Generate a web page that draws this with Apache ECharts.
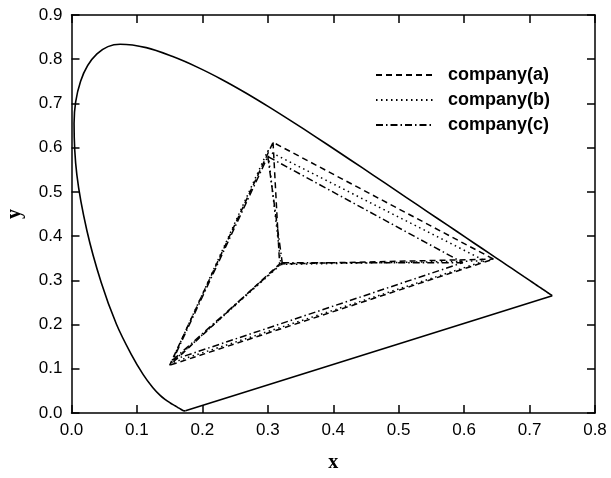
<!DOCTYPE html>
<html><head><meta charset="utf-8">
<script src="https://cdn.jsdelivr.net/npm/echarts@6/dist/echarts.min.js"></script>
<style>html,body{margin:0;padding:0;background:#fff}#c{width:611px;height:478px}</style>
</head><body><div id="c"></div>
<script>
// Spectral locus (chromaticity x, y)
const locusX = [0.1741,0.1738,0.1733,0.1726,0.1714,0.1703,0.1689,0.1669,0.1644,0.1611,0.1566,0.1510,0.1440,0.1355,0.1241,0.1096,0.0913,0.0687,0.0454,0.0235,0.0082,0.0039,0.0139,0.0389,0.0743,0.1142,0.1547,0.1929,0.2296,0.2658,0.3016,0.3373,0.3731,0.4087,0.4441,0.4788,0.5125,0.5448,0.5752,0.6029,0.6270,0.6482,0.6658,0.6801,0.6915,0.7006,0.7079,0.7140,0.7190,0.7230,0.7260,0.7300,0.7320,0.7347];
const locusY = [0.0050,0.0049,0.0048,0.0048,0.0051,0.0058,0.0069,0.0086,0.0109,0.0138,0.0177,0.0227,0.0297,0.0399,0.0578,0.0868,0.1327,0.2007,0.2950,0.4127,0.5384,0.6548,0.7502,0.8120,0.8338,0.8262,0.8059,0.7816,0.7543,0.7243,0.6923,0.6589,0.6245,0.5896,0.5547,0.5202,0.4866,0.4544,0.4242,0.3965,0.3725,0.3514,0.3340,0.3197,0.3083,0.2993,0.2920,0.2859,0.2809,0.2770,0.2740,0.2700,0.2680,0.2653];

// Company primaries: order R, G, B, W(white point)
const companies = ['company(a)','company(b)','company(c)'];
const compAx = [0.645, 0.308, 0.150, 0.318];
const compAy = [0.348, 0.612, 0.108, 0.337];
const compBx = [0.632, 0.300, 0.152, 0.320];
const compBy = [0.344, 0.593, 0.113, 0.336];
const compCx = [0.598, 0.300, 0.155, 0.322];
const compCy = [0.340, 0.580, 0.120, 0.340];

const xTickMin = 0, xTickMax = 0.8, xTickStep = 0.1;
const yTickMin = 0, yTickMax = 0.9, yTickStep = 0.1;

const dashes = [[6,4],[1.5,3.5],[7,3,1.5,3]];

const locusData = locusX.map((x,i)=>[x,locusY[i]]);
const purpleData = [[locusX[locusX.length-1], locusY[locusY.length-1]], [locusX[0], locusY[0]]];

function paths(xs, ys){
  const R=[xs[0],ys[0]], G=[xs[1],ys[1]], B=[xs[2],ys[2]], W=[xs[3],ys[3]];
  return [[G,W,B,G,R,B],[W,R]];
}
const comps = [[compAx,compAy],[compBx,compBy],[compCx,compCy]];
const series = [{
  type:'line', name:'locus', data: locusData, symbol:'none', silent:true, smooth:0.35,
  lineStyle:{color:'#000', width:1.6}, z:3
},{
  type:'line', name:'purple', data: purpleData, symbol:'none', silent:true,
  lineStyle:{color:'#000', width:1.6}, z:3
}];
comps.forEach((c,i)=>{
  paths(c[0],c[1]).forEach(p=>{
    series.push({
      type:'line', name: companies[i], data:p, symbol:'none',
      lineStyle:{color:'#000', width:1.5, type:dashes[i]}, itemStyle:{color:'#000'}
    });
  });
});

const fmt = v => v.toFixed(1);
const mkLine = () => ({show:true, onZero:false, lineStyle:{color:'#000', width:1.5}});
const mkTick = () => ({show:true, inside:true, length:8, lineStyle:{color:'#000', width:1.5}});
const chart = echarts.init(document.getElementById('c'), null, {renderer:'canvas'});
chart.setOption({
  animation:false,
  backgroundColor:'#fff',
  grid:{left:71.5, right:16, top:15, bottom:65, outerBoundsMode:'none', containLabel:false},
  legend:{
    data: companies, orient:'vertical', left:370, top:61,
    itemWidth:57, itemHeight:10, itemGap:7,
    itemStyle:{opacity:0},
    textStyle:{fontFamily:'Liberation Sans, Arial', fontWeight:'bold', fontSize:18, color:'#000', padding:[0,0,0,10]}
  },
  xAxis:[{
    type:'value', min:xTickMin, max:xTickMax, interval:xTickStep,
    name:'x', nameLocation:'middle', nameGap:40,
    nameTextStyle:{fontFamily:'Liberation Serif, Times New Roman', fontWeight:'bold', fontSize:20, color:'#000'},
    axisLine:mkLine(), axisTick:mkTick(),
    axisLabel:{formatter:fmt, fontFamily:'Liberation Sans, Arial', fontSize:17, color:'#000', margin:9},
    splitLine:{show:false}
  },{
    type:'value', position:'top', min:xTickMin, max:xTickMax, interval:xTickStep,
    axisLine:mkLine(), axisTick:mkTick(),
    axisLabel:{show:false}, splitLine:{show:false}
  }],
  yAxis:[{
    type:'value', min:yTickMin, max:yTickMax, interval:yTickStep,
    name:'y', nameLocation:'middle', nameGap:47, nameRotate:90,
    nameTextStyle:{fontFamily:'Liberation Serif, Times New Roman', fontWeight:'bold', fontSize:20, color:'#000'},
    axisLine:mkLine(), axisTick:mkTick(),
    axisLabel:{formatter:fmt, fontFamily:'Liberation Sans, Arial', fontSize:17, color:'#000', margin:9},
    splitLine:{show:false}
  },{
    type:'value', position:'right', min:yTickMin, max:yTickMax, interval:yTickStep,
    axisLine:mkLine(), axisTick:mkTick(),
    axisLabel:{show:false}, splitLine:{show:false}
  }],
  series: series
});
</script>
</body></html>
